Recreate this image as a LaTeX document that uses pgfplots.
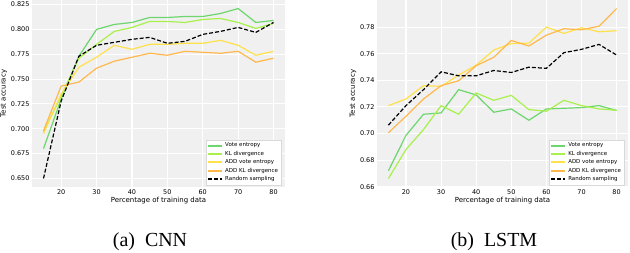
\documentclass[border=0pt]{standalone}
\usepackage{pgfplots}
\pgfplotsset{compat=1.18}
\usepackage{fontspec}
\setmainfont{DejaVu Sans}
\newfontfamily\capfont{Liberation Serif}
\definecolor{ve}{HTML}{6DD66D}
\definecolor{kl}{HTML}{A8F04C}
\definecolor{ave}{HTML}{FFE04D}
\definecolor{akl}{HTML}{FFB84D}
\definecolor{bgc}{HTML}{F0F0F0}
\pgfplotsset{mystyle/.style={
  scale only axis,
  axis background/.style={fill=bgc},
  axis line style={draw=none},
  grid=major,
  major grid style={white, line width=1.1bp},
  tick style={draw=none},
  tick label style={font=\fontsize{6.5}{7}\selectfont},
  /pgf/number format/assume math mode=true,
  label style={font=\fontsize{7}{8}\selectfont},
  xlabel={Percentage of training data},
  ylabel={Test accuracy},
  xlabel style={yshift=4bp},
  ylabel style={yshift=-3bp},
  xticklabel style={yshift=1bp},
  yticklabel style={xshift=1bp},
  xmin=11.75, xmax=83.25,
  xtick={20,30,40,50,60,70,80},
  legend style={at={(0.985,0.01)}, anchor=south east, font=\fontsize{5.5}{6.5}\selectfont, fill=white, draw=gray!30, inner sep=1bp, row sep=-1.2bp},
  legend cell align=left,
  legend image code/.code={\draw[#1, line width=2bp] (0bp,0bp) -- (14bp,0bp);},
  every axis plot/.append style={line width=1.2bp, no markers},
}}
\begin{document}
\begin{tikzpicture}[x=1bp,y=1bp]
\useasboundingbox (0,0) rectangle (630,252);
\begin{axis}[mystyle, at={(32bp,65bp)}, anchor=south west, width=253bp, height=187bp,
  ymin=0.6414, ymax=0.8296,
  ytick={0.650,0.675,0.700,0.725,0.750,0.775,0.800,0.825},
  yticklabel style={/pgf/number format/.cd, fixed, fixed zerofill, precision=3}]
\addplot[ve] coordinates {(15,0.680)(20,0.730)(25,0.773)(30,0.800)(35,0.805)(40,0.807)(45,0.812)(50,0.812)(55,0.813)(60,0.813)(65,0.816)(70,0.821)(75,0.807)(80,0.809)};
\addplot[kl] coordinates {(15,0.697)(20,0.733)(25,0.771)(30,0.785)(35,0.798)(40,0.802)(45,0.808)(50,0.808)(55,0.807)(60,0.810)(65,0.811)(70,0.807)(75,0.801)(80,0.806)};
\addplot[ave] coordinates {(15,0.695)(20,0.735)(25,0.762)(30,0.772)(35,0.784)(40,0.780)(45,0.785)(50,0.785)(55,0.786)(60,0.786)(65,0.789)(70,0.784)(75,0.774)(80,0.778)};
\addplot[akl] coordinates {(15,0.698)(20,0.743)(25,0.747)(30,0.761)(35,0.768)(40,0.772)(45,0.776)(50,0.774)(55,0.778)(60,0.777)(65,0.776)(70,0.778)(75,0.767)(80,0.771)};
\addplot[black, dash pattern=on 4bp off 2bp] coordinates {(15,0.650)(20,0.728)(25,0.773)(30,0.784)(35,0.787)(40,0.790)(45,0.792)(50,0.786)(55,0.788)(60,0.795)(65,0.798)(70,0.802)(75,0.797)(80,0.807)};
\legend{Vote entropy, KL divergence, ADD vote entropy, ADD KL divergence, Random sampling}
\end{axis}
\begin{axis}[mystyle, at={(377bp,65bp)}, anchor=south west, width=251bp, height=187bp,
  ymin=0.6598, ymax=0.8004,
  ytick={0.66,0.68,0.70,0.72,0.74,0.76,0.78},
  yticklabel style={/pgf/number format/.cd, fixed, fixed zerofill, precision=2}]
\addplot[ve] coordinates {(15,0.672)(20,0.6986)(25,0.7145)(30,0.7155)(35,0.733)(40,0.729)(45,0.716)(50,0.7185)(55,0.710)(60,0.7185)(65,0.719)(70,0.7195)(75,0.721)(80,0.7173)};
\addplot[kl] coordinates {(15,0.6662)(20,0.688)(25,0.703)(30,0.721)(35,0.7145)(40,0.7305)(45,0.725)(50,0.7287)(55,0.718)(60,0.7168)(65,0.725)(70,0.721)(75,0.7185)(80,0.7175)};
\addplot[ave] coordinates {(15,0.721)(20,0.726)(25,0.736)(30,0.7355)(35,0.744)(40,0.7514)(45,0.7628)(50,0.7676)(55,0.768)(60,0.780)(65,0.7753)(70,0.7795)(75,0.7765)(80,0.7773)};
\addplot[akl] coordinates {(15,0.7006)(20,0.713)(25,0.726)(30,0.736)(35,0.7397)(40,0.751)(45,0.7573)(50,0.770)(55,0.7658)(60,0.774)(65,0.7788)(70,0.778)(75,0.7807)(80,0.794)};
\addplot[black, dash pattern=on 4bp off 2bp] coordinates {(15,0.7063)(20,0.721)(25,0.733)(30,0.7464)(35,0.7434)(40,0.7434)(45,0.7474)(50,0.7459)(55,0.7499)(60,0.749)(65,0.7608)(70,0.7633)(75,0.767)(80,0.759)};
\legend{Vote entropy, KL divergence, ADD vote entropy, ADD KL divergence, Random sampling}
\end{axis}
\node[font=\capfont\fontsize{20}{22}\selectfont, anchor=base] at (150,6) {(a)\ \ CNN};
\node[font=\capfont\fontsize{20}{22}\selectfont, anchor=base] at (494,6) {(b)\ \ LSTM};
\end{tikzpicture}
\end{document}
